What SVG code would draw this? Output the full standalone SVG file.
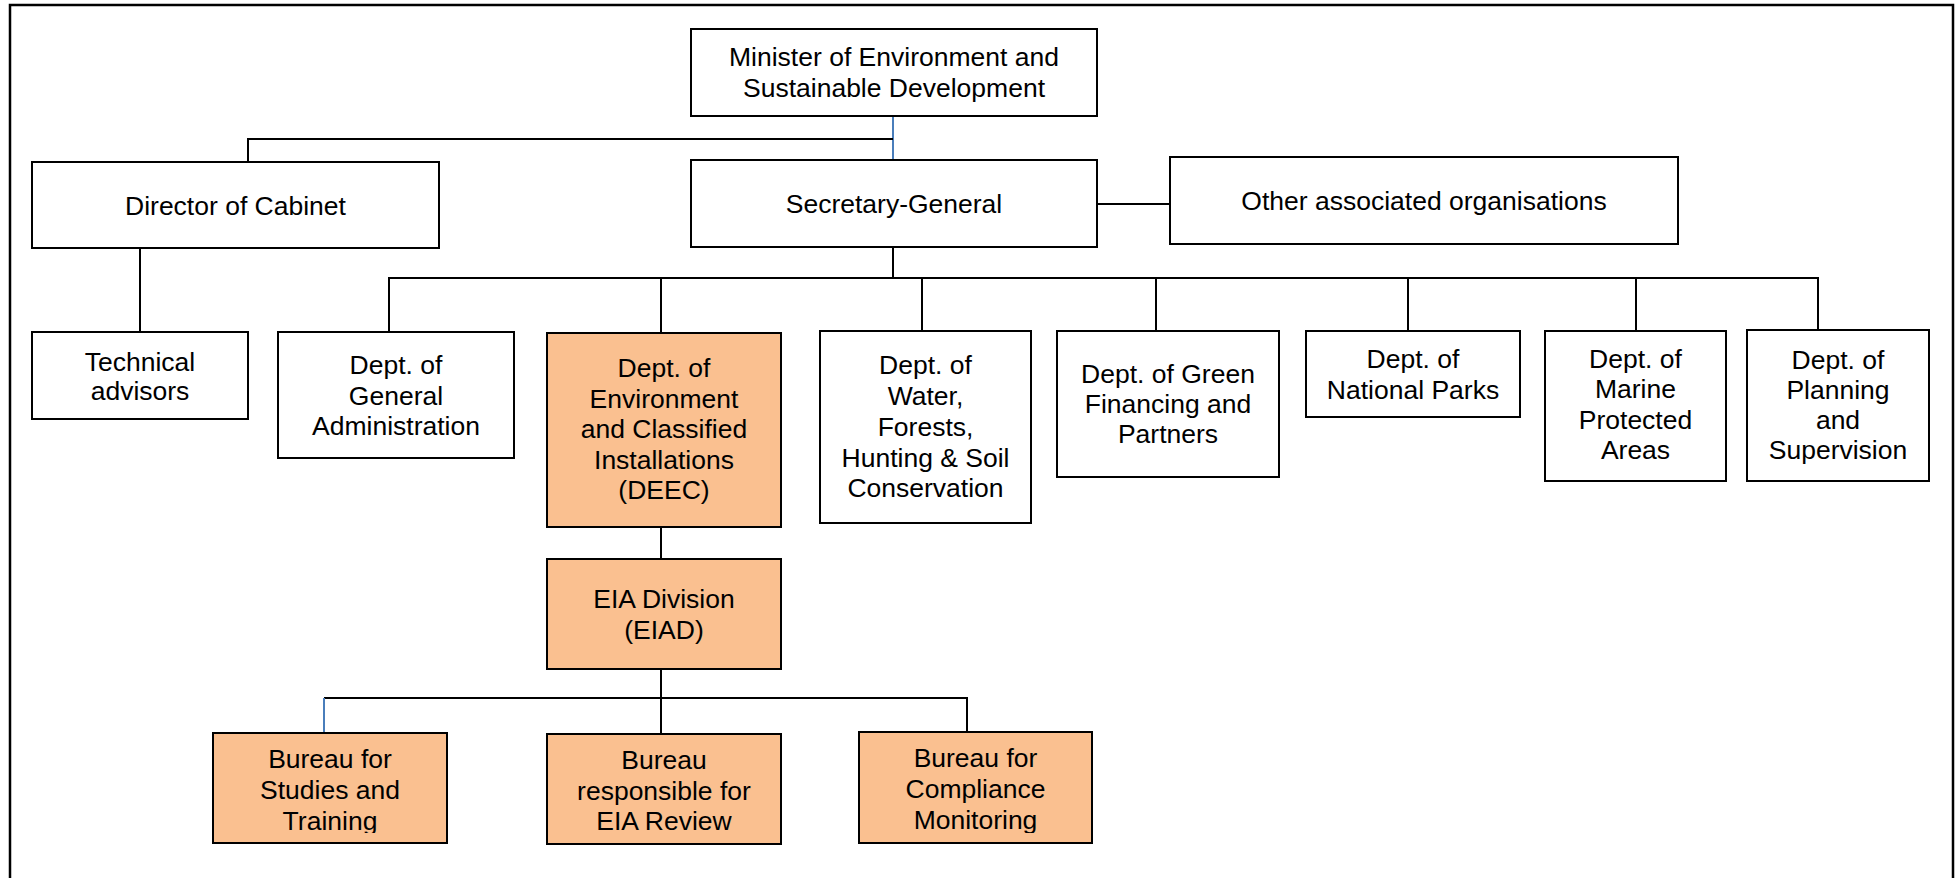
<svg xmlns="http://www.w3.org/2000/svg" width="1959" height="878" viewBox="0 0 1959 878">
<style>
.box{fill:#ffffff;stroke:#000;stroke-width:2}
.hi{fill:#FAC090;stroke:#000;stroke-width:2}
.ln{fill:none;stroke:#000;stroke-width:2}
.bl{fill:none;stroke:#4A7EBB;stroke-width:2}
text{font-family:"Liberation Sans",Arial,sans-serif;font-size:26.5px;fill:#000;text-anchor:middle}
</style>
<defs>
<clipPath id="bclip"><rect x="0" y="0" width="1959" height="833"/></clipPath>
</defs>
<rect x="0" y="0" width="1959" height="878" fill="#fff"/>
<path d="M10,878 V5 H1953 V878" fill="none" stroke="#000" stroke-width="2.5"/>
<g id="connectors">
<path class="bl" d="M893,116 V160"/>
<path class="ln" d="M248,162 V139 H893"/>
<path class="ln" d="M893,247 V278"/>
<path class="ln" d="M1097,204 H1170"/>
<path class="ln" d="M140,248 V332"/>
<path class="ln" d="M389,332 V278 H1818 V330"/>
<path class="ln" d="M661,278 V333"/>
<path class="ln" d="M922,278 V331"/>
<path class="ln" d="M1156,278 V331"/>
<path class="ln" d="M1408,278 V331"/>
<path class="ln" d="M1636,278 V331"/>
<path class="ln" d="M661,527 V559"/>
<path class="ln" d="M661,669 V734"/>
<path class="ln" d="M324,698 H967 V732"/>
<path class="bl" d="M324,698 V733"/>
</g>
<g id="minister"><rect class="box" x="691" y="29" width="406" height="87"/><text x="894" y="66">Minister of Environment and</text><text x="894" y="97">Sustainable Development</text></g>
<g id="director"><rect class="box" x="32" y="162" width="407" height="86"/><text x="235.5" y="215">Director of Cabinet</text></g>
<g id="secretary"><rect class="box" x="691" y="160" width="406" height="87"/><text x="894" y="213">Secretary-General</text></g>
<g id="other"><rect class="box" x="1170" y="157" width="508" height="87"/><text x="1424" y="210">Other associated organisations</text></g>
<g id="technical"><rect class="box" x="32" y="332" width="216" height="87"/><text x="140" y="371">Technical</text><text x="140" y="400">advisors</text></g>
<g id="genadmin"><rect class="box" x="278" y="332" width="236" height="126"/><text x="396" y="374">Dept. of</text><text x="396" y="404.5">General</text><text x="396" y="435">Administration</text></g>
<g id="deec"><rect class="hi" x="547" y="333" width="234" height="194"/><text x="664" y="377">Dept. of</text><text x="664" y="408">Environment</text><text x="664" y="438">and Classified</text><text x="664" y="469">Installations</text><text x="664" y="499">(DEEC)</text></g>
<g id="water"><rect class="box" x="820" y="331" width="211" height="192"/><text x="925.5" y="374">Dept. of</text><text x="925.5" y="405">Water,</text><text x="925.5" y="436">Forests,</text><text x="925.5" y="466.5">Hunting &amp; Soil</text><text x="925.5" y="497">Conservation</text></g>
<g id="green"><rect class="box" x="1057" y="331" width="222" height="146"/><text x="1168" y="383">Dept. of Green</text><text x="1168" y="413">Financing and</text><text x="1168" y="443">Partners</text></g>
<g id="parks"><rect class="box" x="1306" y="331" width="214" height="86"/><text x="1413" y="368">Dept. of</text><text x="1413" y="399">National Parks</text></g>
<g id="marine"><rect class="box" x="1545" y="331" width="181" height="150"/><text x="1635.5" y="368">Dept. of</text><text x="1635.5" y="398">Marine</text><text x="1635.5" y="428.5">Protected</text><text x="1635.5" y="459">Areas</text></g>
<g id="planning"><rect class="box" x="1747" y="330" width="182" height="151"/><text x="1838" y="369">Dept. of</text><text x="1838" y="399">Planning</text><text x="1838" y="428.5">and</text><text x="1838" y="459">Supervision</text></g>
<g id="eiad"><rect class="hi" x="547" y="559" width="234" height="110"/><text x="664" y="608">EIA Division</text><text x="664" y="639">(EIAD)</text></g>
<g id="studies"><rect class="hi" x="213" y="733" width="234" height="110"/><g clip-path="url(#bclip)"><text x="330" y="768">Bureau for</text><text x="330" y="799">Studies and</text><text x="330" y="830">Training</text></g></g>
<g id="review"><rect class="hi" x="547" y="734" width="234" height="110"/><g clip-path="url(#bclip)"><text x="664" y="769">Bureau</text><text x="664" y="799.5">responsible for</text><text x="664" y="830">EIA Review</text></g></g>
<g id="compliance"><rect class="hi" x="859" y="732" width="233" height="111"/><g clip-path="url(#bclip)"><text x="975.5" y="767">Bureau for</text><text x="975.5" y="798">Compliance</text><text x="975.5" y="829">Monitoring</text></g></g>
</svg>
